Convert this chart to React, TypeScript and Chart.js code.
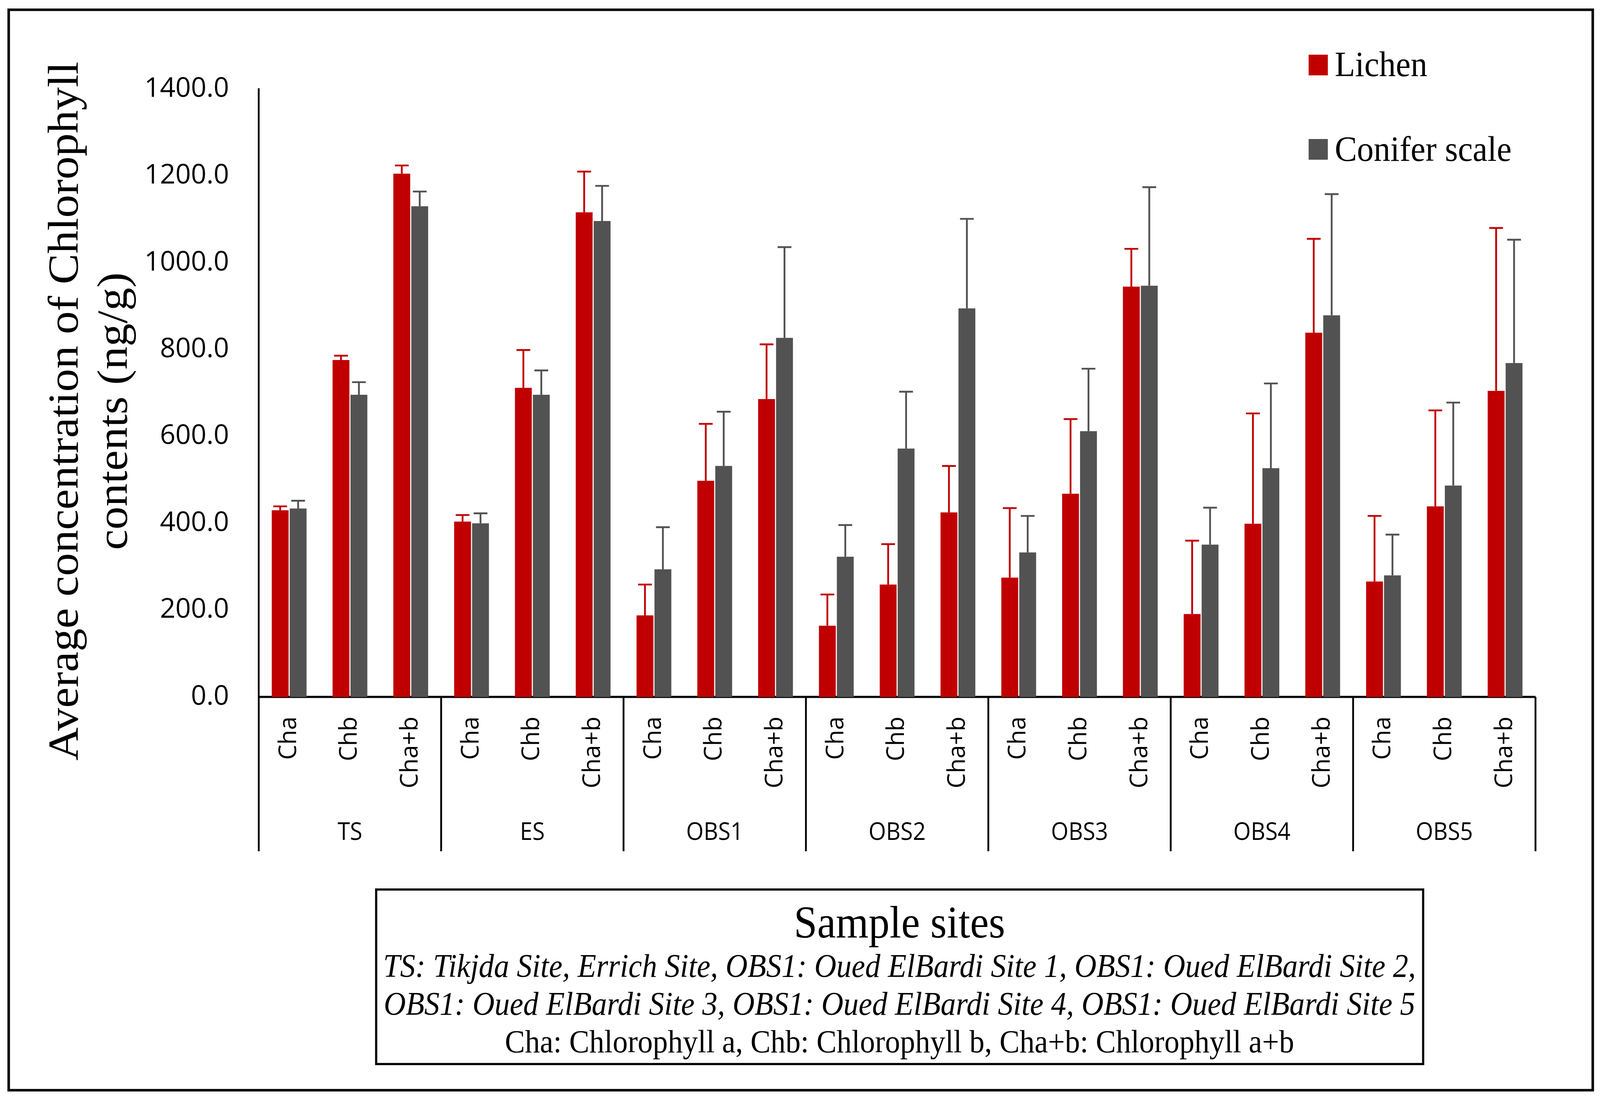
import React, { useEffect, useRef } from "react";
import { Chart, registerables } from "chart.js";

Chart.register(...registerables);

// ---------- data ----------
const sites = ["TS", "ES", "OBS1", "OBS2", "OBS3", "OBS4", "OBS5"];
const pigments = ["Cha", "Chb", "Cha+b"];
const seriesNames = ["Lichen", "Conifer scale"];
const lichenMean = [430, 776, 1205, 404, 712, 1116, 188, 498, 686, 164, 259, 425, 275, 468, 945, 191, 399, 839, 266, 439, 705];
const lichenErr = [9, 10, 19, 15, 87, 94, 71, 131, 126, 72, 93, 107, 160, 172, 87, 169, 254, 216, 151, 221, 375];
const coniferMean = [434, 696, 1130, 400, 696, 1096, 294, 532, 827, 323, 572, 895, 333, 612, 947, 351, 527, 879, 280, 487, 769];
const coniferErr = [18, 29, 34, 23, 56, 81, 97, 125, 209, 73, 131, 206, 84, 144, 227, 85, 195, 279, 94, 191, 284];
const yMin = 0;
const yMax = 1400;
const yStep = 200;
const yTitleLines = ["Average concentration of Chlorophyll", "contents (ng/g)"];
const boxTitle = "Sample sites";
const boxItalicLines = [
  "TS: Tikjda Site, Errich Site, OBS1: Oued ElBardi Site 1, OBS1: Oued ElBardi Site 2,",
  "OBS1: Oued ElBardi Site 3, OBS1: Oued ElBardi Site 4, OBS1: Oued ElBardi Site 5",
];
const boxPlainLine = "Cha: Chlorophyll a, Chb: Chlorophyll b, Cha+b: Chlorophyll a+b";

const categories = sites.flatMap(() => pigments);

// ---------- styling (reference pixel units, 4415 x 2835) ----------
const REF_W = 4415;
const REF_H = 2835;
const RED = "#C00000";
const GREY = "#525252";
const SERIF = "'Liberation Serif', 'Times New Roman', serif";
const SANS = "'Open Sans', 'Noto Sans', sans-serif";
const CHART_LEFT = 714;
const CHART_TOP = 228;
const CHART_BOTTOM = 1785;
const CHART_RIGHT = 4237;

function makeChart(canvas: HTMLCanvasElement, cw: number, chh: number) {
  const sx = cw / REF_W;
  const sy = chh / REF_H;
  const s = Math.min(sx, sy);
  const X = (v: number) => v * sx;
  const Y = (v: number) => v * sy;
  const F = (v: number) => v * s;

  // draws text given in reference units, stretched to the page proportions
  const refText = (ctx: any, text: string, x: number, y: number, font: string, rotate = false) => {
    ctx.save();
    ctx.translate(X(x), Y(y));
    if (rotate) {
      ctx.rotate(-Math.PI / 2);
      ctx.scale(sy, sx);
    } else {
      ctx.scale(sx, sy);
    }
    ctx.font = font;
    ctx.fillText(text, 0, 0);
    ctx.restore();
  };

  const errorBarPlugin = {
    id: "errorBars",
    afterDatasetsDraw(chart: any) {
      const ctx = chart.ctx;
      const yScale = chart.scales.y;
      const errs = [lichenErr, coniferErr];
      const means = [lichenMean, coniferMean];
      const cols = [RED, GREY];
      ctx.save();
      for (let d = 0; d < 2; d++) {
        const meta = chart.getDatasetMeta(d);
        meta.data.forEach((bar: any, i: number) => {
          const yTop = yScale.getPixelForValue(means[d][i] + errs[d][i]);
          const yBase = yScale.getPixelForValue(means[d][i]);
          ctx.strokeStyle = cols[d];
          ctx.lineWidth = F(5);
          ctx.beginPath();
          ctx.moveTo(bar.x, yBase);
          ctx.lineTo(bar.x, yTop);
          ctx.moveTo(bar.x - X(19), yTop);
          ctx.lineTo(bar.x + X(19), yTop);
          ctx.stroke();
        });
      }
      ctx.restore();
    },
  };

  const decorPlugin = {
    id: "decor",
    afterDraw(chart: any) {
      const ctx = chart.ctx;
      const xScale = chart.scales.x;
      const area = chart.chartArea;
      ctx.save();

      // outer frame
      ctx.strokeStyle = "#000";
      ctx.lineWidth = F(7);
      ctx.strokeRect(X(24), Y(25), X(4371), Y(2767));

      // group separators and group labels
      const n = categories.length;
      const step = xScale.getPixelForValue(1) - xScale.getPixelForValue(0);
      ctx.lineWidth = F(5);
      ctx.beginPath();
      for (let g = 0; g <= sites.length; g++) {
        const idx = g * pigments.length;
        const x = idx < n ? xScale.getPixelForValue(idx) - step / 2 : xScale.getPixelForValue(n - 1) + step / 2;
        ctx.moveTo(x, area.bottom);
        ctx.lineTo(x, Y(2180));
      }
      ctx.stroke();
      ctx.fillStyle = "#000";
      ctx.textAlign = "center";
      ctx.textBaseline = "middle";
      sites.forEach((st, g) => {
        const x = xScale.getPixelForValue(g * pigments.length + 1);
        refText(ctx, st, x / sx, 2133, `62px ${SANS}`);
      });

      // y axis title
      ctx.textAlign = "center";
      ctx.textBaseline = "alphabetic";
      const baselines = [215, 350];
      yTitleLines.forEach((line, i) => {
        refText(ctx, line, baselines[i], 1053, `118px ${SERIF}`, true);
      });

      // legend
      const legendCols = [RED, GREY];
      const legendCenters = [166, 382];
      const legendBaselines = [195, 412];
      ctx.textAlign = "left";
      ctx.textBaseline = "alphabetic";
      seriesNames.forEach((name, i) => {
        ctx.fillStyle = legendCols[i];
        ctx.fillRect(X(3611), Y(legendCenters[i] - 26), X(53), Y(53));
        ctx.fillStyle = "#000";
        refText(ctx, name, 3683, legendBaselines[i], `92px ${SERIF}`);
      });

      // bottom box
      ctx.strokeStyle = "#000";
      ctx.lineWidth = F(6);
      ctx.strokeRect(X(1038), Y(2278), X(2889), Y(447));
      const cx = 2482;
      ctx.textAlign = "center";
      refText(ctx, boxTitle, cx, 2401, `116px ${SERIF}`);
      refText(ctx, boxItalicLines[0], cx, 2502, `italic 84px ${SERIF}`);
      refText(ctx, boxItalicLines[1], cx, 2599, `italic 84px ${SERIF}`);
      refText(ctx, boxPlainLine, cx, 2695, `83px ${SERIF}`);

      ctx.restore();
    },
  };

  return new Chart(canvas, {
    type: "bar",
    data: {
      labels: categories,
      datasets: [
        {
          label: seriesNames[0],
          data: lichenMean,
          backgroundColor: RED,
          borderWidth: 0,
          categoryPercentage: 0.59,
          barPercentage: 0.94,
        },
        {
          label: seriesNames[1],
          data: coniferMean,
          backgroundColor: GREY,
          borderWidth: 0,
          categoryPercentage: 0.59,
          barPercentage: 0.94,
        },
      ],
    },
    options: {
      responsive: false,
      animation: false,
      layout: {
        padding: { left: 0, top: Y(CHART_TOP), right: X(REF_W - CHART_RIGHT), bottom: 0 },
      },
      plugins: {
        legend: { display: false },
        tooltip: { enabled: false },
        title: { display: false },
      },
      scales: {
        x: {
          type: "category",
          offset: true,
          grid: { display: false, drawTicks: false, tickLength: 0 },
          border: { display: true, color: "#000", width: F(6) },
          ticks: {
            autoSkip: false,
            maxRotation: 90,
            minRotation: 90,
            padding: Y(50),
            color: "#000",
            font: { family: SANS, size: 64 * ((sx + sy) / 2) },
          },
          afterFit: (sc: any) => {
            sc.height = Y(REF_H - CHART_BOTTOM);
          },
        },
        y: {
          min: yMin,
          max: yMax,
          grid: { display: false, drawTicks: false, tickLength: 0 },
          border: { display: true, color: "#000", width: F(5) },
          ticks: {
            stepSize: yStep,
            padding: X(82),
            color: "#000",
            font: { family: SANS, size: 72 * ((sx + sy) / 2) },
            callback: (v: any) => Number(v).toFixed(1),
          },
          afterFit: (sc: any) => {
            sc.width = X(CHART_LEFT);
          },
        },
      },
    },
    plugins: [errorBarPlugin, decorPlugin],
  });
}

export default function App() {
  const ref = useRef<HTMLCanvasElement | null>(null);

  useEffect(() => {
    document.body.style.margin = "0";
    document.body.style.overflow = "hidden";
    const canvas = ref.current;
    if (!canvas) return;
    const cw = document.documentElement.clientWidth || window.innerWidth;
    const chh = document.documentElement.clientHeight || window.innerHeight;
    canvas.width = cw;
    canvas.height = chh;
    canvas.style.width = cw + "px";
    canvas.style.height = chh + "px";
    const chart = makeChart(canvas, cw, chh);
    return () => chart.destroy();
  }, []);

  return (
    <div style={{ background: "#fff" }}>
      <canvas ref={ref} style={{ display: "block" }} />
    </div>
  );
}
